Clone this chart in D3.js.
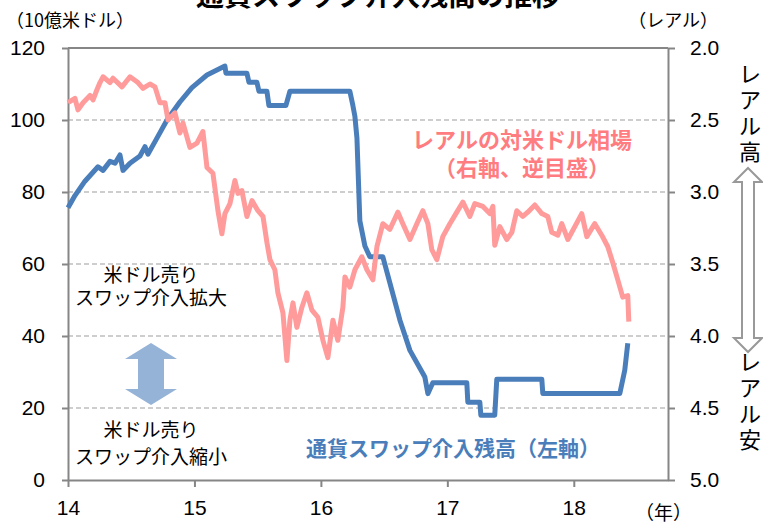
<!DOCTYPE html>
<html>
<head>
<meta charset="utf-8">
<script src="https://cdn.jsdelivr.net/npm/d3@7"></script>
<style>
  body { margin: 0; background: #fff; }
  svg { display: block; }
  .jp { font-family: "Noto Sans CJK JP", "Noto Sans", sans-serif; }
  .num { font-family: "Liberation Sans", Arial, sans-serif; }
</style>
</head>
<body>
<div id="chart"></div>
<script>
// Swap intervention balance (left axis, 10億米ドル)
const swapDates = [14.000, 14.055, 14.134, 14.237, 14.277, 14.332, 14.372, 14.411, 14.435, 14.490,
  14.569, 14.609, 14.632, 14.688, 14.783, 14.885, 14.980, 15.099, 15.241, 15.249,
  15.415, 15.431, 15.494, 15.510, 15.573, 15.589, 15.723, 15.755, 16.229, 16.253,
  16.269, 16.285, 16.308, 16.348, 16.387, 16.490, 16.625, 16.704, 16.822, 16.846,
  16.885, 17.154, 17.162, 17.257, 17.265, 17.375, 17.391, 17.747, 17.755, 18.364,
  18.403, 18.427];
const swapBalance = [75.6, 79, 83, 87, 86, 88.5, 88, 90.3, 86, 88,
  90, 92.6, 90.5, 94, 100, 105, 109, 112.5, 115, 113,
  113, 110.5, 110.5, 108, 108, 104, 104, 108, 108, 104,
  101, 95, 72, 65, 62, 62, 44.4, 36, 28.6, 24,
  27, 27, 21.6, 21.6, 18, 18, 28, 28, 24, 24,
  30.5, 38];

// Real per US dollar (right axis, reversed)
const realDates = [14.000, 14.055, 14.079, 14.119, 14.174, 14.198, 14.229, 14.253, 14.277, 14.332,
  14.356, 14.427, 14.490, 14.553, 14.593, 14.648, 14.688, 14.727, 14.767, 14.791,
  14.846, 14.885, 14.909, 14.964, 15.020, 15.067, 15.099, 15.146, 15.186, 15.217,
  15.241, 15.281, 15.320, 15.344, 15.375, 15.415, 15.455, 15.502, 15.542, 15.573,
  15.597, 15.636, 15.660, 15.700, 15.731, 15.755, 15.779, 15.810, 15.850, 15.889,
  15.929, 15.976, 16.016, 16.055, 16.095, 16.134, 16.174, 16.190, 16.229, 16.269,
  16.324, 16.364, 16.411, 16.443, 16.490, 16.545, 16.609, 16.648, 16.704, 16.759,
  16.806, 16.846, 16.877, 16.917, 16.964, 17.020, 17.075, 17.123, 17.178, 17.217,
  17.281, 17.336, 17.360, 17.375, 17.415, 17.470, 17.510, 17.549, 17.597, 17.636,
  17.692, 17.747, 17.794, 17.826, 17.874, 17.905, 17.953, 18.008, 18.063, 18.103,
  18.166, 18.221, 18.269, 18.308, 18.348, 18.387, 18.427, 18.435];
const realRate = [2.38, 2.35, 2.43, 2.38, 2.33, 2.36, 2.29, 2.24, 2.20, 2.24,
  2.21, 2.27, 2.20, 2.24, 2.28, 2.25, 2.27, 2.38, 2.38, 2.50,
  2.45, 2.59, 2.52, 2.69, 2.66, 2.58, 2.83, 2.87, 3.13, 3.29,
  3.15, 3.08, 2.92, 3.01, 2.99, 3.17, 3.06, 3.13, 3.17, 3.35,
  3.47, 3.54, 3.70, 3.84, 4.17, 3.89, 3.77, 3.94, 3.80, 3.70,
  3.82, 3.87, 4.03, 4.15, 3.89, 4.03, 3.80, 3.59, 3.66, 3.54,
  3.45, 3.54, 3.61, 3.38, 3.22, 3.26, 3.14, 3.22, 3.33, 3.22,
  3.13, 3.22, 3.40, 3.47, 3.31, 3.22, 3.14, 3.07, 3.17, 3.08,
  3.10, 3.15, 3.10, 3.37, 3.24, 3.33, 3.28, 3.13, 3.17, 3.14,
  3.09, 3.15, 3.17, 3.28, 3.30, 3.22, 3.33, 3.24, 3.15, 3.31,
  3.22, 3.30, 3.38, 3.49, 3.61, 3.73, 3.72, 3.90];

// Tick labels
const yearTicks = [14, 15, 16, 17, 18];
const leftTicks = [0, 20, 40, 60, 80, 100, 120];
const rightTicks = [2.0, 2.5, 3.0, 3.5, 4.0, 4.5, 5.0];

const W = 763, H = 523;
const margin = {top: 48, right: 95, bottom: 43, left: 68};

const svg = d3.select("#chart").append("svg")
  .attr("width", W)
  .attr("height", H);

const x = d3.scaleLinear().domain([14, 18.745]).range([margin.left, W - margin.right]);
const yLeft = d3.scaleLinear().domain([0, 120]).range([H - margin.bottom, margin.top]);
const yRight = d3.scaleLinear().domain([2, 5]).range([margin.top, H - margin.bottom]);

const axisColor = "#868686";

// gridlines
svg.append("g")
  .selectAll("line")
  .data(leftTicks.filter(d => d > 0 && d < 120))
  .enter().append("line")
    .attr("x1", x(14)).attr("x2", x(18.745))
    .attr("y1", d => yLeft(d)).attr("y2", d => yLeft(d))
    .attr("stroke", "#bfbfbf")
    .attr("stroke-width", 1.5)
    .attr("stroke-dasharray", "5,3");

// top border
svg.append("line")
  .attr("x1", x(14)).attr("x2", x(18.745))
  .attr("y1", yLeft(120)).attr("y2", yLeft(120))
  .attr("stroke", axisColor).attr("stroke-width", 2);

// Left axis
const gL = svg.append("g")
  .attr("transform", "translate(" + margin.left + ",0)")
  .call(d3.axisLeft(yLeft).tickValues(leftTicks).tickSize(6).tickSizeOuter(0).tickPadding(17));

// Right axis
const gR = svg.append("g")
  .attr("transform", "translate(" + (W - margin.right) + ",0)")
  .call(d3.axisRight(yRight).tickValues(rightTicks).tickFormat(d3.format(".1f"))
    .tickSize(7).tickSizeOuter(0).tickPadding(15));

// Bottom axis
const gB = svg.append("g")
  .attr("transform", "translate(0," + (H - margin.bottom) + ")")
  .call(d3.axisBottom(x).tickValues(yearTicks).tickFormat(d3.format("d"))
    .tickSize(7).tickSizeOuter(0).tickPadding(13));

[gL, gR, gB].forEach(g => {
  g.selectAll("path, line").attr("stroke", axisColor).attr("stroke-width", 2);
  g.selectAll("text")
    .attr("class", "num")
    .attr("font-size", 21)
    .attr("fill", "#000");
});

// Swap balance line
const swapData = swapDates.map((d, i) => ({t: d, v: swapBalance[i]}));
svg.append("path")
  .datum(swapData)
  .attr("fill", "none")
  .attr("stroke", "#4a7ebb")
  .attr("stroke-width", 5)
  .attr("stroke-linejoin", "round")
  .attr("d", d3.line()
    .x(d => x(d.t))
    .y(d => yLeft(d.v)));

// Real rate line
const realData = realDates.map((d, i) => ({t: d, v: realRate[i]}));
svg.append("path")
  .datum(realData)
  .attr("fill", "none")
  .attr("stroke", "#ff9b9b")
  .attr("stroke-width", 5)
  .attr("stroke-linejoin", "round")
  .attr("d", d3.line()
    .x(d => x(d.t))
    .y(d => yRight(d.v)));

// Title (cut off at top)
svg.append("text")
  .attr("class", "jp")
  .attr("x", 378).attr("y", 6)
  .attr("text-anchor", "middle")
  .attr("font-size", 28)
  .attr("font-weight", "bold")
  .text("通貨スワップ介入残高の推移");

// axis unit labels
svg.append("text").attr("class", "jp")
  .attr("x", 6).attr("y", 27)
  .attr("font-size", 18)
  .text("（10億米ドル）");
svg.append("text").attr("class", "jp")
  .attr("x", 718).attr("y", 27)
  .attr("text-anchor", "end")
  .attr("font-size", 18)
  .text("（レアル）");
svg.append("text").attr("class", "jp")
  .attr("x", 692).attr("y", 520)
  .attr("text-anchor", "end")
  .attr("font-size", 19)
  .text("（年）");

// series labels
svg.append("text").attr("class", "jp")
  .attr("x", 522).attr("y", 148)
  .attr("text-anchor", "middle")
  .attr("font-size", 22).attr("font-weight", "bold")
  .attr("fill", "#ff7c80")
  .text("レアルの対米ドル相場");
svg.append("text").attr("class", "jp")
  .attr("x", 522).attr("y", 176)
  .attr("text-anchor", "middle")
  .attr("font-size", 22).attr("font-weight", "bold")
  .attr("fill", "#ff7c80")
  .text("（右軸、逆目盛）");
svg.append("text").attr("class", "jp")
  .attr("x", 453).attr("y", 456)
  .attr("text-anchor", "middle")
  .attr("font-size", 21).attr("font-weight", "bold")
  .attr("fill", "#4a7ebb")
  .text("通貨スワップ介入残高（左軸）");

// left-side annotations
const notes = [
  {text: "米ドル売り", y: 282},
  {text: "スワップ介入拡大", y: 305},
  {text: "米ドル売り", y: 437},
  {text: "スワップ介入縮小", y: 464}
];
svg.append("g").selectAll("text")
  .data(notes)
  .enter().append("text")
    .attr("class", "jp")
    .attr("x", 151).attr("y", d => d.y)
    .attr("text-anchor", "middle")
    .attr("font-size", 19)
    .text(d => d.text);

// double arrow outline
function doubleArrow(cx, top, bottom, headW, headH, shaftW) {
  return "M" + cx + "," + top +
    " L" + (cx + headW) + "," + (top + headH) +
    " L" + (cx + shaftW) + "," + (top + headH) +
    " L" + (cx + shaftW) + "," + (bottom - headH) +
    " L" + (cx + headW) + "," + (bottom - headH) +
    " L" + cx + "," + bottom +
    " L" + (cx - headW) + "," + (bottom - headH) +
    " L" + (cx - shaftW) + "," + (bottom - headH) +
    " L" + (cx - shaftW) + "," + (top + headH) +
    " L" + (cx - headW) + "," + (top + headH) + " Z";
}
svg.append("path")
  .attr("d", doubleArrow(151, 343, 405, 26, 16, 13))
  .attr("fill", "#95b3d7");

// right-side hollow arrow
svg.append("path")
  .attr("d", doubleArrow(748, 168, 352, 14, 14, 6))
  .attr("fill", "#fff")
  .attr("stroke", "#999")
  .attr("stroke-width", 2);

// vertical labels on the right
const upChars = ["レ", "ア", "ル", "高"];
const downChars = ["レ", "ア", "ル", "安"];
svg.append("g").selectAll("text")
  .data(upChars)
  .enter().append("text")
    .attr("class", "jp")
    .attr("x", 750).attr("y", (d, i) => 82 + i * 26)
    .attr("text-anchor", "middle")
    .attr("font-size", 22)
    .text(d => d);
svg.append("g").selectAll("text")
  .data(downChars)
  .enter().append("text")
    .attr("class", "jp")
    .attr("x", 750).attr("y", (d, i) => 370 + i * 26)
    .attr("text-anchor", "middle")
    .attr("font-size", 22)
    .text(d => d);
</script>
</body>
</html>
